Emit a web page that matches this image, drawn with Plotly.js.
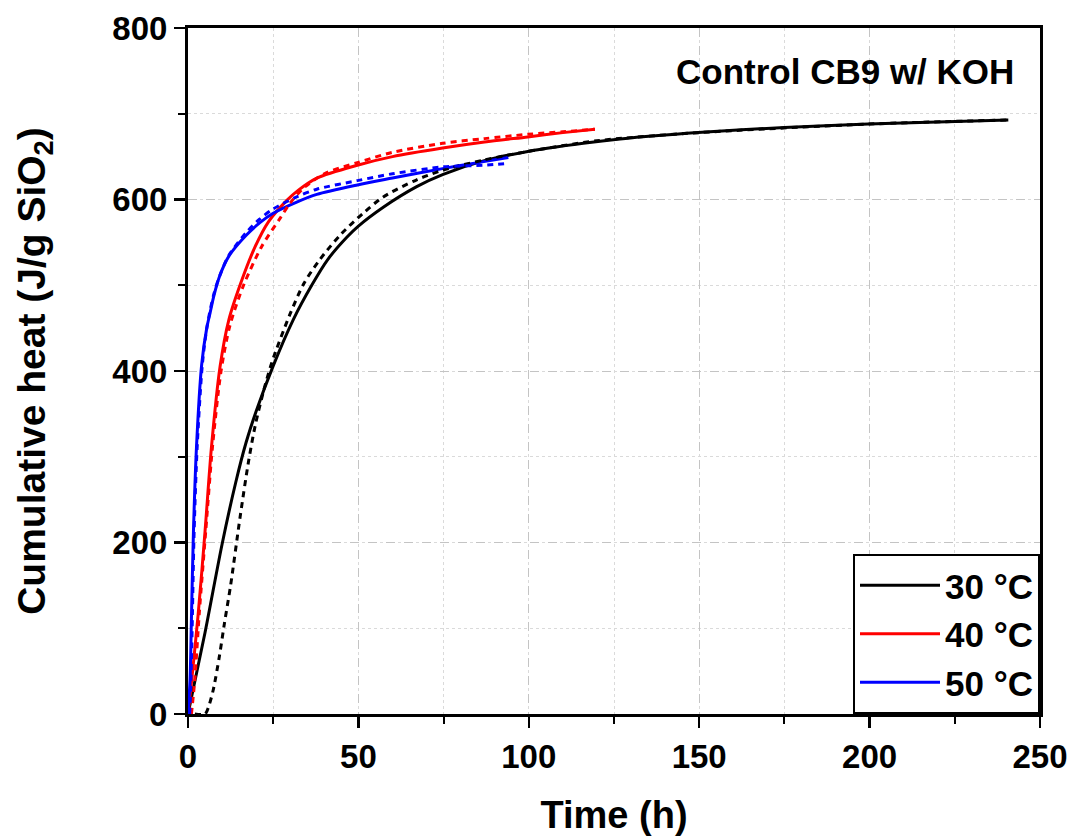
<!DOCTYPE html>
<html>
<head>
<meta charset="utf-8">
<script src="https://cdn.plot.ly/plotly-3.0.1.min.js"></script>
<style>html,body{margin:0;padding:0;background:#fff;}#chart{width:1073px;height:839px;}</style>
</head>
<body>
<div id="chart"></div>
<script>
// 30 °C measured (solid) and fit (dashed)
const t30 = [0, 5, 10, 14, 17, 20, 25, 30.9, 36.3, 41, 46.6, 50, 57.3, 67.1, 74.7, 86.7, 99.7, 116, 126.8, 149.7, 175, 199.6, 220, 240.7];
const q30 = [0, 95, 198, 270, 316, 353, 406, 460, 500, 530, 556, 569, 591, 615, 629, 645, 656, 665.5, 670.5, 678, 684, 688, 690.5, 692.7];
const t30fit = [2, 5, 6, 7.4, 9.2, 10.7, 12.5, 15.3, 17.7, 19.7, 22, 24.6, 29.9, 34, 38.7, 45, 51.4, 57.3, 67.1, 74.7, 86.7, 99.7, 120, 150, 200, 240.7];
const q30fit = [0, 0, 8, 28, 67, 106, 150, 230, 293, 336, 374, 410, 466, 502, 530, 560, 584, 603, 623, 634, 646, 656, 668.5, 678, 688, 692.7];

// 40 °C
const t40 = [0, 1.1, 3.0, 5, 6.9, 9.4, 12, 15.7, 19.7, 23.6, 29, 32.4, 37.8, 49.7, 60, 74.7, 87, 99.7, 110, 119.4];
const q40 = [0, 40, 117, 213, 312, 405, 460, 505, 545, 574, 599, 611, 625, 640, 650, 660, 667, 673, 678, 682];
const t40fit = [1.0, 2, 3.3, 5.2, 7.2, 9.7, 12.3, 16.3, 21.6, 27, 30, 33.8, 40, 49.7, 60, 74.7, 87, 99.7, 110, 119.4];
const q40fit = [0, 40, 117, 213, 312, 400, 453, 500, 545, 578, 596, 613, 630, 643, 655, 665.5, 671, 676, 679, 682];

// 50 °C
const t50 = [0, 0.6, 1.0, 1.6, 2.5, 4.0, 5.5, 6.5, 7.6, 9.4, 12, 17, 21.1, 25, 31.9, 37.8, 49.7, 60, 74.7, 85, 94];
const q50 = [0, 40, 110, 213, 312, 407, 450, 468, 488, 512, 534, 558, 573, 584, 597, 606, 617, 625, 636, 643, 649];
const t50fit = [0.5, 1.0, 1.8, 2.7, 4.2, 5.6, 7.6, 9.6, 12, 17, 21, 25, 31.9, 37.8, 49.7, 60, 74.7, 86.7, 94];
const q50fit = [0, 60, 213, 312, 407, 452, 490, 514, 535, 561, 577, 589, 603, 612, 622, 630, 638, 640, 642];

const seriesNames = ['30 °C', '40 °C', '50 °C'];
const seriesColors = ['#000000', '#ff0000', '#0000ff'];

const xTicks = [0, 50, 100, 150, 200, 250];
const yTicks = [0, 200, 400, 600, 800];

const FONT = 'Liberation Sans, Arial, Helvetica, sans-serif';

const measured = [[t30, q30], [t40, q40], [t50, q50]];
const fitted = [[t30fit, q30fit], [t40fit, q40fit], [t50fit, q50fit]];

const traces = [];
measured.forEach((d, i) => {
  traces.push({x: d[0], y: d[1], type: 'scatter', mode: 'lines', name: seriesNames[i],
    line: {color: seriesColors[i], width: 3, shape: 'spline', smoothing: 0.8}, showlegend: true});
});
fitted.forEach((d, i) => {
  traces.push({x: d[0], y: d[1], type: 'scatter', mode: 'lines', name: seriesNames[i] + ' fit',
    line: {color: seriesColors[i], width: 3, dash: '6px,5px', shape: 'spline', smoothing: 0.8}, showlegend: false});
});

const axisCommon = {
  showline: true, linecolor: '#000', linewidth: 3, mirror: true,
  ticks: 'outside', ticklen: 11, tickwidth: 2.5, tickcolor: '#000',
  showgrid: true, gridcolor: '#c4c4c4', gridwidth: 1, griddash: 'dash',
  zeroline: false,
  tickfont: {family: FONT, size: 33, color: '#000', weight: 'bold'},
};

const layout = {
  width: 1073, height: 839,
  margin: {l: 188, r: 33, t: 28, b: 125},
  paper_bgcolor: '#fff', plot_bgcolor: '#fff',
  xaxis: Object.assign({}, axisCommon, {
    range: [0, 250], tickvals: xTicks, ticktext: xTicks.map(String),
    minor: {dtick: 25, tick0: 0, ticks: 'outside', ticklen: 7, tickwidth: 2, tickcolor: '#000', showgrid: true, gridcolor: '#dadada', griddash: 'dot', gridwidth: 1},
    title: {text: 'Time (h)', font: {family: FONT, size: 38, color: '#000', weight: 'bold'}, standoff: 28},
  }),
  yaxis: Object.assign({}, axisCommon, {
    range: [0, 800], tickvals: yTicks, ticktext: yTicks.map(String),
    minor: {dtick: 100, tick0: 0, ticks: 'outside', ticklen: 7, tickwidth: 2, tickcolor: '#000', showgrid: true, gridcolor: '#dadada', griddash: 'dot', gridwidth: 1},
    title: {text: 'Cumulative heat (J/g SiO<sub>2</sub>)', font: {family: FONT, size: 39, color: '#000', weight: 'bold'}, standoff: 55},
  }),
  legend: {
    x: 1, y: 0, xanchor: 'right', yanchor: 'bottom',
    bgcolor: '#fff', bordercolor: '#000', borderwidth: 2,
    font: {family: FONT, size: 35, color: '#000', weight: 'bold'},
    itemwidth: 80, tracegroupgap: 0,
  },
  annotations: [{
    xref: 'paper', yref: 'paper', x: 0.972, y: 0.936, xanchor: 'right', yanchor: 'middle',
    text: 'Control CB9 w/ KOH', showarrow: false,
    font: {family: FONT, size: 35, color: '#000', weight: 'bold'},
  }],
};

Plotly.newPlot('chart', traces, layout, {displayModeBar: false, staticPlot: true});
</script>
</body>
</html>
